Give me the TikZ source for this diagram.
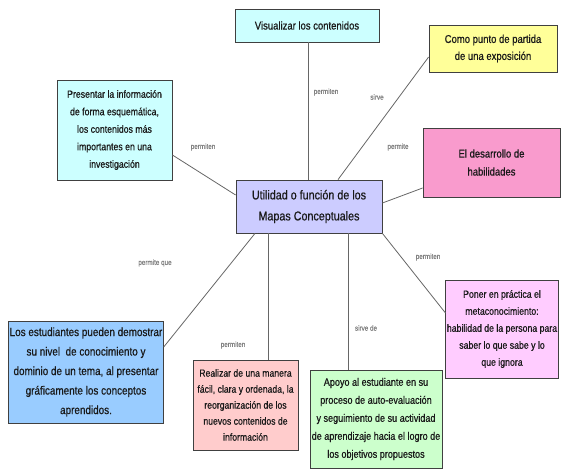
\documentclass[tikz,border=0pt]{standalone}
\usepackage{fontspec}
\setmainfont{Liberation Sans}[FakeStretch=0.84,FakeBold=0.6]
\usetikzlibrary{shadows}
\definecolor{celeste}{HTML}{CCFFFF}
\definecolor{amarillo}{HTML}{FFFF99}
\definecolor{rosa}{HTML}{F99BCD}
\definecolor{lila}{HTML}{CCCCFF}
\definecolor{azul}{HTML}{99CCFF}
\definecolor{salmon}{HTML}{FFCCCC}
\definecolor{verde}{HTML}{CCFFCC}
\definecolor{malva}{HTML}{FFCCFF}
\begin{document}
\begin{tikzpicture}[x=1pt,y=-1pt,
	caja/.style={draw=black!75,line width=.8pt,align=center,inner sep=1pt,text=black!90,
		drop shadow={shadow xshift=1pt,shadow yshift=-1pt,opacity=.35}},
	enlace/.style={black!60,line width=.8pt},
	etiqueta/.style={text=black!50,font=\fontsize{7.5}{9}\selectfont}]
\useasboundingbox (0,0) rectangle (561,470);
\node[caja,fill=lila,minimum width=146,minimum height=53,font=\fontsize{12.8}{21}\selectfont] (mapas) at (309,206.5) {Utilidad o función de los\\Mapas Conceptuales};
\node[caja,fill=celeste,minimum width=144,minimum height=33,font=\fontsize{11.3}{13}\selectfont] (visualizar) at (307,25.5) {Visualizar los contenidos};
\node[caja,fill=amarillo,minimum width=128,minimum height=47,font=\fontsize{11.3}{17}\selectfont] (partida) at (493,48.5) {Como punto de partida\\de una exposición};
\node[caja,fill=celeste,minimum width=115,minimum height=100,font=\fontsize{10.4}{17.5}\selectfont] (presentar) at (114.5,130) {Presentar la información\\de forma esquemática,\\los contenidos más\\importantes en una\\investigación};
\node[caja,fill=rosa,minimum width=137,minimum height=69,font=\fontsize{11.3}{18}\selectfont] (desarrollo) at (491.5,162.5) {El desarrollo de\\habilidades};
\node[caja,fill=azul,minimum width=154,minimum height=102,font=\fontsize{11.8}{19.5}\selectfont] (estudiantes) at (86,372) {Los estudiantes pueden demostrar\\su nivel\ \ de conocimiento y\\dominio de un tema, al presentar\\gráficamente los conceptos\\aprendidos.};
\node[caja,fill=salmon,minimum width=105,minimum height=90,font=\fontsize{10.3}{16}\selectfont] (realizar) at (245.5,405) {Realizar de una manera\\fácil, clara y ordenada, la\\reorganización de los\\nuevos contenidos de\\información};
\node[caja,fill=verde,minimum width=132,minimum height=98,font=\fontsize{10.8}{18}\selectfont] (apoyo) at (376,419) {Apoyo al estudiante en su\\proceso de auto-evaluación\\y seguimiento de su actividad\\de aprendizaje hacia el logro de\\los objetivos propuestos};
\node[caja,fill=malva,minimum width=112,minimum height=98,font=\fontsize{10.4}{17}\selectfont] (poner) at (502,329) {Poner en práctica el\\metaconocimiento:\\habilidad de la persona para\\saber lo que sabe y lo\\que ignora};
\draw[enlace] (visualizar.south -| 308,0) -- (mapas.north -| 308,0); %visualizar
\draw[enlace] ([yshift=-8.5pt]partida.west) -- ([xshift=29pt]mapas.north); %partida
\draw[enlace] ([yshift=-25pt]presentar.east) -- ([yshift=11.5pt]mapas.west); %presentar
\draw[enlace] ([yshift=-25.5pt]desarrollo.west) -- ([yshift=3.5pt]mapas.east); %desarrollo
\draw[enlace] ([yshift=25pt]estudiantes.east) -- ([xshift=-54pt]mapas.south); %estudiantes
\draw[enlace] ([xshift=22.5pt]realizar.north) -- ([xshift=22.5pt]realizar.north |- mapas.south); %realizar
\draw[enlace] ([xshift=-28pt]apoyo.north) -- ([xshift=-28pt]apoyo.north |- mapas.south); %apoyo
\draw[enlace] ([yshift=16pt]poner.west) -- (mapas.south east); %poner
\node[etiqueta] (l1) at (326,92) {permiten};
\node[etiqueta] (l2) at (377,97) {sirve};
\node[etiqueta] (l3) at (203,147) {permiten};
\node[etiqueta] (l4) at (398,147) {permite};
\node[etiqueta] (l5) at (155,263) {permite que};
\node[etiqueta] (l6) at (233,345) {permiten};
\node[etiqueta] (l7) at (366,328) {sirve de};
\node[etiqueta] (l8) at (428,257) {permiten};
\end{tikzpicture}
\end{document}
